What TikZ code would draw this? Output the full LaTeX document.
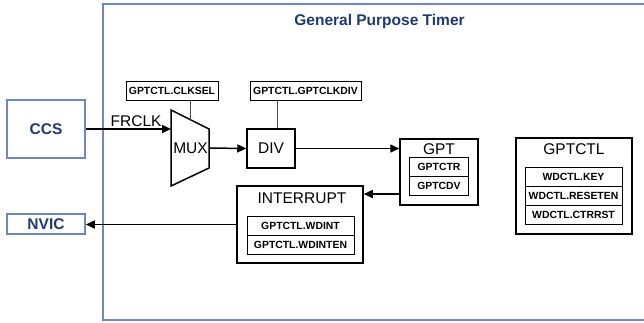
\documentclass[tikz,border=0pt]{standalone}
\usepackage{fontspec}
\setmainfont{Liberation Sans}
\usetikzlibrary{positioning}
\usetikzlibrary{arrows.meta}

\definecolor{gptframe}{HTML}{6F88BF}
\definecolor{gptnavy}{HTML}{1F3A6E}

\tikzset{
  bigtext/.style={font=\fontsize{15.5}{18}\selectfont},
  regtext/.style={font=\bfseries\fontsize{10.4}{12}\selectfont},
  extbox/.style={draw=gptframe, line width=1.6pt, text=gptnavy,
    font=\bfseries\fontsize{15.5}{18}\selectfont, minimum width=78pt},
  unitbox/.style={draw, line width=1.5pt, inner sep=0pt},
  regbox/.style={draw, line width=0.8pt, inner sep=0pt, outer sep=0pt,
    minimum height=19.2pt, regtext},
  selbox/.style={draw, line width=0.8pt, inner sep=0pt, minimum height=19pt, regtext},
  stub/.style={line width=0.8pt, black!70},
  flow/.style={line width=1.5pt, -{Triangle[length=9pt,width=8pt]}}
}

\begin{document}
\begin{tikzpicture}[x=1pt, y=-1pt]
  \useasboundingbox (0,0) rectangle (644,322);

  % timer frame
  \draw[gptframe, line width=1.6pt] (103,4) rectangle (700,320);
  \node[anchor=base, text=gptnavy, font=\bfseries\fontsize{15.5}{18}\selectfont]
    (title) at (379.5,25.5) {General Purpose Timer};

  % outside blocks
  \node[extbox, minimum height=58pt] (ccs)  at (46,129) {CCS};
  \node[extbox, minimum height=20pt] (nvic) at (46,224) {NVIC};

  % select registers
  \node[selbox, minimum width=92pt]  (clksel) at (172,90.5)  {GPTCTL.CLKSEL};
  \node[selbox, minimum width=111pt] (clkdiv) at (305.5,90.5) {GPTCTL.GPTCLKDIV};

  % mux
  \coordinate (muxin)  at (171,129);
  \coordinate (muxout) at (209,148);
  \coordinate (selin)  at (190,119.5);
  \draw[line width=1.5pt, line join=miter] (171,110) -- (209,129) -- (209,168) -- (171,186) -- cycle;
  \node[bigtext] (mux) at (190.5,148) {MUX};

  % divider
  \node[unitbox, minimum width=48pt, minimum height=39pt, bigtext] (div) at (271,148.5) {DIV};

  % GPT block
  \node[unitbox, minimum width=78pt, minimum height=66pt] (gpt) at (439,172) {};
  \node[bigtext, anchor=base] (gpttitle) at (439,154) {GPT};
  \node[regbox, minimum width=59pt, anchor=north] (gptctr) at (439,157) {GPTCTR};
  \node[regbox, minimum width=59pt, below=0pt of gptctr] (gptcdv) {GPTCDV};

  % GPTCTL block
  \node[unitbox, minimum width=116pt, minimum height=96pt] (gptctl) at (574,186) {};
  \node[bigtext, anchor=base] (ctltitle) at (574,154) {GPTCTL};
  \node[regbox, minimum width=97pt, anchor=north] (wdkey) at (573.5,167) {WDCTL.KEY};
  \node[regbox, minimum width=97pt, below=0pt of wdkey] (wdreset) {WDCTL.RESETEN};
  \node[regbox, minimum width=97pt, below=0pt of wdreset] (wdrst) {WDCTL.CTRRST};

  % interrupt block
  \node[unitbox, minimum width=126pt, minimum height=77pt] (intr) at (300,224.5) {};
  \node[bigtext, anchor=base] (intrtitle) at (302,203) {INTERRUPT};
  \node[regbox, minimum width=107pt, anchor=north] (wdint) at (300.5,216) {GPTCTL.WDINT};
  \node[regbox, minimum width=107pt, below=0pt of wdint] (wdinten) {GPTCTL.WDINTEN};

  % connections
  \draw[stub] (selin) -- (selin |- clksel.south);
  \draw[stub] ([xshift=6pt]div.north) -- ([xshift=6pt]div.north |- clkdiv.south);
  \draw[flow] (ccs.east) -- node[bigtext, above, pos=0.59, inner sep=1.5pt] (frclk) {FRCLK} (muxin);
  \draw[flow] (muxout) -- (div.west);
  \draw[flow] (div.east) -- (div.east -| gpt.west);
  \draw[flow] ([yshift=-22pt]gpt.west) -- ([yshift=-22pt]gpt.west -| intr.east);
  \draw[flow] (intr.west) -- (intr.west -| nvic.east);
\end{tikzpicture}
\end{document}
